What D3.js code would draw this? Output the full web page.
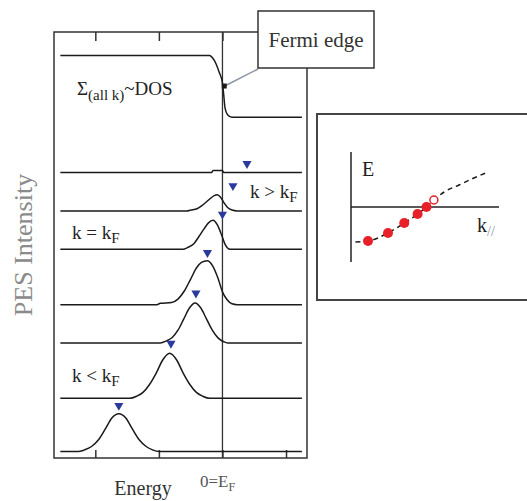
<!DOCTYPE html>
<html>
<head>
<meta charset="utf-8">
<script src="https://cdn.jsdelivr.net/npm/d3@7"></script>
<style>
  body { margin: 0; background: #fff; }
</style>
</head>
<body>
<div id="chart"></div>
<script>
// --- Données (énergie : E_F = 0) ---
const energyTicks = [-2, -1, 0, 1];

// spectre intégré sur tous les k (~DOS) : [énergie, intensité]
const dosCurve = [[-2.55, 9.45], [-0.2, 9.45], [-0.16, 9.4], [-0.1, 9.25], [-0.05, 9.05],
  [0, 8.8], [0.02, 8.52], [0.04, 8.22], [0.08, 8.06], [0.15, 8.0], [1.25, 8.0]];

// spectres par k, du haut (k > kF) vers le bas (k < kF) : [énergie, intensité]
const spec1 = [[-2.55, 0], [-0.17, 0], [-0.15, 0.05], [0, 0.05], [0.02, 0], [1.25, 0]];
const spec2 = [[-2.55, 0], [-0.56, 0], [-0.5, 0.02], [-0.4, 0.05], [-0.3, 0.15], [-0.2, 0.28],
  [-0.13, 0.36], [-0.08, 0.38], [-0.03, 0.32], [0.02, 0.2], [0.08, 0.08], [0.15, 0.02], [0.23, 0], [1.25, 0]];
const spec3 = [[-2.55, 0], [-0.62, 0], [-0.55, 0.04], [-0.45, 0.13], [-0.37, 0.3], [-0.29, 0.48],
  [-0.22, 0.62], [-0.15, 0.68], [-0.08, 0.57], [-0.03, 0.4], [0, 0.28], [0.04, 0.12], [0.08, 0.03], [0.12, 0], [1.25, 0]];
const spec4 = [[-2.55, 0], [-1.03, 0], [-0.98, 0.03], [-0.8, 0.05], [-0.7, 0.13], [-0.6, 0.32], [-0.5, 0.6],
  [-0.41, 0.86], [-0.33, 0.99], [-0.24, 1.03], [-0.15, 0.9], [-0.07, 0.62], [0, 0.3], [0.07, 0.12], [0.15, 0.02], [0.23, 0], [1.25, 0]];
const spec5 = [[-2.55, 0], [-0.98, 0], [-0.88, 0.05], [-0.79, 0.13], [-0.7, 0.3], [-0.61, 0.56], [-0.52, 0.82],
  [-0.43, 0.94], [-0.34, 0.82], [-0.25, 0.56], [-0.16, 0.3], [-0.07, 0.12], [0.02, 0.03], [0.08, 0], [1.25, 0]];
const spec6 = [[-2.55, 0], [-1.46, 0], [-1.35, 0.05], [-1.25, 0.14], [-1.15, 0.32], [-1.04, 0.6], [-0.94, 0.9],
  [-0.83, 1.06], [-0.72, 0.9], [-0.62, 0.6], [-0.51, 0.32], [-0.41, 0.14], [-0.31, 0.05], [-0.2, 0], [1.25, 0]];
const spec7 = [[-2.55, 0], [-2.27, 0], [-2.17, 0.04], [-2.06, 0.12], [-1.95, 0.28], [-1.84, 0.54], [-1.74, 0.79],
  [-1.63, 0.89], [-1.52, 0.79], [-1.42, 0.54], [-1.31, 0.28], [-1.2, 0.12], [-1.1, 0.04], [-1.0, 0], [1.25, 0]];
const spectra = [spec1, spec2, spec3, spec4, spec5, spec6, spec7];

// décalage vertical de chaque spectre
const spectraOffsets = [6.7, 5.8, 4.9, 3.6, 2.7, 1.4, 0.15];
// position des pics (triangles bleus) et hauteur du repère au-dessus de la ligne de base
const peakEnergies = [0.386, 0.165, 0.0, -0.236, -0.417, -0.81, -1.63];
const markerLevels = [0.21, 0.59, 0.82, 1.22, 1.17, 1.29, 1.08];

// encart : dispersion E(k//)
const dispK = [0.3, 1.15, 2.5, 3.6, 4.5, 5.1, 5.6, 6.3, 7.3, 8.3, 9.1];
const dispE = [-3.5, -3.4, -2.6, -1.6, -0.7, 0, 0.7, 1.5, 2.2, 2.9, 3.4];
const filledK = [1.15, 2.5, 3.6, 4.5, 5.1];
const filledE = [-3.4, -2.6, -1.6, -0.7, 0];
const openK = [5.6];
const openE = [0.7];

// --- Dessin ---
const W = 527, H = 501;
const serif = '"Liberation Serif", "Times New Roman", Times, serif';
const svg = d3.select('#chart').append('svg')
  .attr('width', W)
  .attr('height', H)
  .style('font-family', serif);

const frame = { left: 54, right: 307, top: 32, bottom: 458 };

const x = d3.scaleLinear().domain([-2.65, 1.33]).range([frame.left, frame.right]);
const y = d3.scaleLinear().domain([0, 10]).range([frame.bottom, frame.top]);

const ink = '#1a1a1a';

// cadre
svg.append('rect')
  .attr('x', frame.left).attr('y', frame.top)
  .attr('width', frame.right - frame.left).attr('height', frame.bottom - frame.top)
  .attr('fill', 'none').attr('stroke', '#333').attr('stroke-width', 1.5);

// graduations haut et bas
svg.append('g')
  .attr('transform', `translate(0,${frame.bottom})`)
  .call(d3.axisBottom(x).tickValues(energyTicks).tickSize(-8).tickSizeOuter(0).tickFormat(''))
  .call(g => g.select('.domain').remove())
  .selectAll('line').attr('stroke', '#333').attr('stroke-width', 1.5);

svg.append('g')
  .attr('transform', `translate(0,${frame.top})`)
  .call(d3.axisTop(x).tickValues(energyTicks).tickSize(-9).tickSizeOuter(0).tickFormat(''))
  .call(g => g.select('.domain').remove())
  .selectAll('line').attr('stroke', '#333').attr('stroke-width', 1.5);

// ligne E_F
svg.append('line')
  .attr('x1', x(0)).attr('x2', x(0))
  .attr('y1', frame.top).attr('y2', frame.bottom)
  .attr('stroke', '#333').attr('stroke-width', 1.3);

// DOS
svg.append('path')
  .datum(dosCurve)
  .attr('d', d3.line().x(d => x(d[0])).y(d => y(d[1])).curve(d3.curveMonotoneX))
  .attr('fill', 'none').attr('stroke', ink).attr('stroke-width', 1.5);

// spectres
spectra.forEach((s, i) => {
  svg.append('path')
    .datum(s)
    .attr('d', d3.line()
      .x(d => x(d[0]))
      .y(d => y(d[1] + spectraOffsets[i]))
      .curve(d3.curveMonotoneX))
    .attr('fill', 'none').attr('stroke', ink).attr('stroke-width', 1.5);
});

// triangles bleus
svg.selectAll('.marker')
  .data(peakEnergies)
  .join('path')
  .attr('class', 'marker')
  .attr('d', d3.symbol(d3.symbolTriangle, 36))
  .attr('transform', (d, i) => `translate(${x(d)},${y(spectraOffsets[i] + markerLevels[i])}) rotate(180)`)
  .attr('fill', '#2a3a9c');

// étiquettes
const lbl = (px, py, main, sub, size) => {
  const t = svg.append('text').attr('x', px).attr('y', py)
    .style('font-family', serif)
    .style('font-size', size + 'px').style('fill', '#222');
  t.append('tspan').text(main);
  if (sub) t.append('tspan').attr('dy', 4).style('font-size', (size - 4) + 'px').text(sub);
  return t;
};
lbl(250, 198, 'k > k', 'F', 19);
lbl(72, 239, 'k = k', 'F', 19);
lbl(72, 382, 'k < k', 'F', 19);

const dosLabel = svg.append('text').attr('x', 77).attr('y', 95)
  .style('font-family', serif)
  .style('font-size', '19px').style('fill', '#222');
dosLabel.append('tspan').text('Σ');
dosLabel.append('tspan').attr('dy', 5).style('font-size', '15px').text('(all k)');
dosLabel.append('tspan').attr('dy', -5).text('~DOS');

// axe vertical
svg.append('text')
  .attr('transform', `translate(32,245) rotate(-90)`)
  .attr('text-anchor', 'middle')
  .style('font-family', serif)
  .style('font-size', '26px')
  .style('fill', '#8a8a8a')
  .text('PES Intensity');

// axe horizontal
svg.append('text')
  .attr('x', 143).attr('y', 495)
  .attr('text-anchor', 'middle')
  .style('font-family', serif)
  .style('font-size', '20px').style('fill', '#333')
  .text('Energy');

const ef = svg.append('text').attr('x', 200).attr('y', 487)
  .style('font-family', serif)
  .style('font-size', '17px').style('fill', '#555');
ef.append('tspan').text('0=E');
ef.append('tspan').attr('dy', 4).style('font-size', '12px').text('F');

// boîte "Fermi edge"
const anchor = [0.02, 8.72];
svg.append('line')
  .attr('x1', 258).attr('y1', 69)
  .attr('x2', x(anchor[0])).attr('y2', y(anchor[1]))
  .attr('stroke', '#8a96a3').attr('stroke-width', 1.5);
svg.append('rect')
  .attr('x', x(anchor[0]) - 2).attr('y', y(anchor[1]) - 3)
  .attr('width', 5).attr('height', 5)
  .attr('fill', ink);

svg.append('rect')
  .attr('x', 258).attr('y', 11)
  .attr('width', 116).attr('height', 57)
  .attr('fill', '#fff').attr('stroke', '#333').attr('stroke-width', 1.5);
svg.append('text')
  .attr('x', 316).attr('y', 47)
  .attr('text-anchor', 'middle')
  .style('font-family', serif)
  .style('font-size', '21px').style('fill', '#333')
  .text('Fermi edge');

// --- Encart dispersion ---
svg.append('rect')
  .attr('x', 317).attr('y', 114)
  .attr('width', 240).attr('height', 186)
  .attr('fill', 'none').attr('stroke', '#444').attr('stroke-width', 2);

const kx = d3.scaleLinear().domain([0, 10]).range([351, 499]);
const ey = d3.scaleLinear().domain([-5.5, 5.5]).range([262, 152]);

svg.append('line')
  .attr('x1', kx(0)).attr('x2', kx(0))
  .attr('y1', ey(-5.5)).attr('y2', ey(5.5))
  .attr('stroke', '#222').attr('stroke-width', 1.5);
svg.append('line')
  .attr('x1', kx(0)).attr('x2', kx(10))
  .attr('y1', ey(0)).attr('y2', ey(0))
  .attr('stroke', '#222').attr('stroke-width', 1.5);

svg.append('path')
  .datum(d3.zip(dispK, dispE))
  .attr('d', d3.line().x(d => kx(d[0])).y(d => ey(d[1])).curve(d3.curveMonotoneX))
  .attr('fill', 'none').attr('stroke', ink).attr('stroke-width', 1.5)
  .attr('stroke-dasharray', '5,4');

svg.selectAll('.dot')
  .data(d3.zip(filledK, filledE))
  .join('circle')
  .attr('class', 'dot')
  .attr('cx', d => kx(d[0])).attr('cy', d => ey(d[1]))
  .attr('r', 5)
  .attr('fill', '#e8202a');

svg.selectAll('.odot')
  .data(d3.zip(openK, openE))
  .join('circle')
  .attr('class', 'odot')
  .attr('cx', d => kx(d[0])).attr('cy', d => ey(d[1]))
  .attr('r', 4)
  .attr('fill', '#fff').attr('stroke', '#e8202a').attr('stroke-width', 1.5);

svg.append('text')
  .attr('x', 362).attr('y', 176)
  .style('font-family', serif)
  .style('font-size', '20px').style('fill', '#222')
  .text('E');

const kl = svg.append('text').attr('x', 477).attr('y', 232)
  .style('font-family', serif)
  .style('font-size', '20px').style('fill', '#222');
kl.append('tspan').text('k');
kl.append('tspan').attr('dy', 4).style('font-size', '14px').style('fill', '#8a96a3').text('//');
</script>
</body>
</html>
